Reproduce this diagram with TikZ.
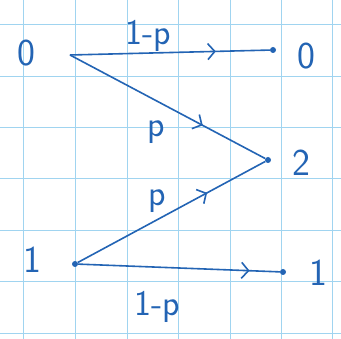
\documentclass[tikz,border=0pt]{standalone}
\usepackage{tikz}
\usetikzlibrary{arrows.meta,decorations.markings}

\definecolor{pen}{RGB}{35,100,180}
\definecolor{gridblue}{RGB}{160,212,240}

\begin{document}
\begin{tikzpicture}[
            x=1pt, y=-1pt,
            penline/.style={draw=pen, line width=1.6pt},
            dot/.style={circle, fill=pen, inner sep=0pt, minimum size=6pt},
            state/.style={text=pen, font=\sffamily\fontsize{38}{40}\selectfont},
            prob/.style={text=pen, font=\sffamily\fontsize{36}{38}\selectfont},
            chevron/.style={postaction={decorate}, decoration={markings,
                mark=at position #1 with {\arrow[pen, line width=1.6pt]{Straight Barb[length=7pt, width=16pt]}}}}
        ]
            \useasboundingbox[fill=white] (0,0) rectangle (341,339);
            % grid paper
            \foreach \gx in {23,75,127,178,230,281,332}
                \draw[gridblue, line width=1pt] (\gx,0) -- (\gx,339);
            \foreach \gy in {25,77,128,179,231,282,334}
                \draw[gridblue, line width=1pt] (0,\gy) -- (341,\gy);

            % states
            \node[state] (l0) at (26,53) {0};
            \node[state] (l1) at (32,260) {1};
            \node[state] (r0) at (306,56) {0};
            \node[state] (r2) at (301,163) {2};
            \node[state] (r1) at (318,273) {1};

            \coordinate (a0) at (70,55);
            \node[dot] (a1) at (75,264) {};
            \node[dot] (b0) at (273,50) {};
            \node[dot] (b2) at (268,160) {};
            \node[dot] (b1) at (283,272) {};

            % transitions
            \draw[penline, chevron=0.73] (a0) -- (b0);
            \draw[penline, chevron=0.68] (a0) -- (b2);
            \draw[penline, chevron=0.69] (a1) -- (b2);
            \draw[penline, chevron=0.85] (a1) -- (b1);

            \node[prob] (p01) at (148,36) {1-p};
            \node[prob] (p02) at (156,132) {p};
            \node[prob] (p12) at (157,201) {p};
            \node[prob] (p11) at (157,307) {1-p};
        \end{tikzpicture}
\end{document}
